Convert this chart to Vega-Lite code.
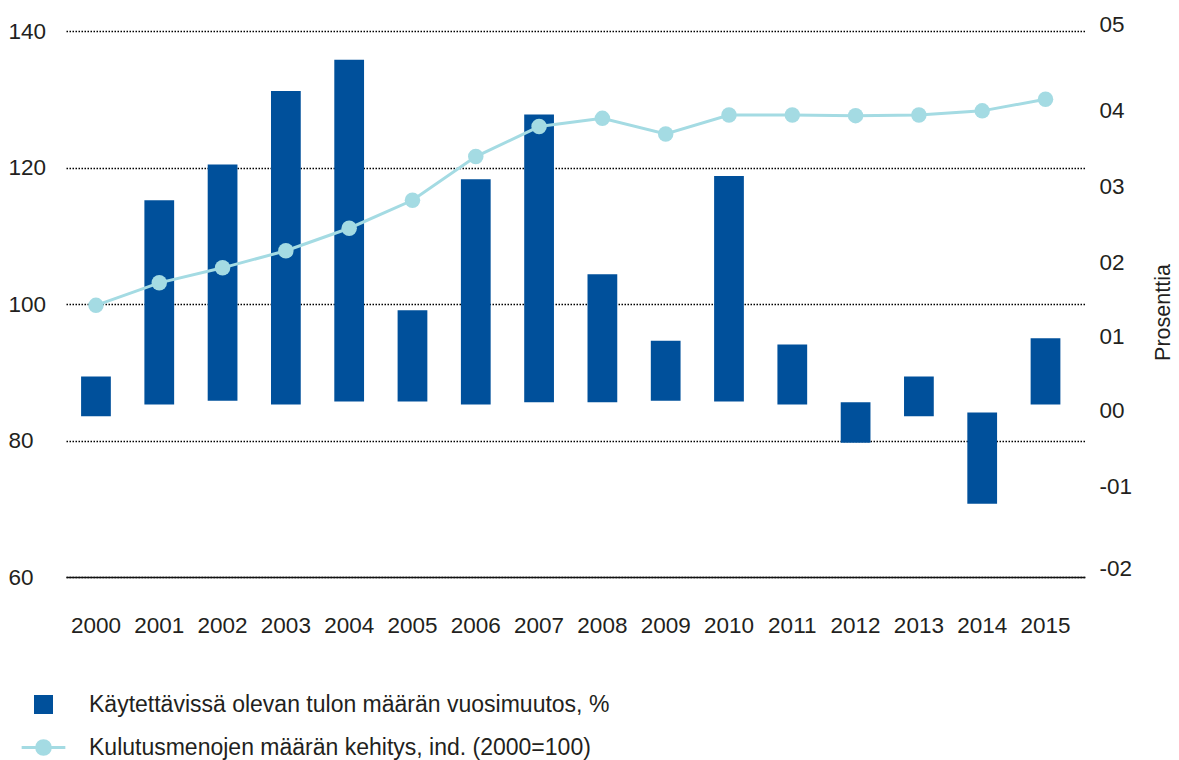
{
  "$schema": "https://vega.github.io/schema/vega-lite/v6.json",
  "width": 1019,
  "height": 546,
  "autosize": {"type": "none"},
  "padding": {"left": 66, "top": 31, "right": 94, "bottom": 183},
  "background": "white",
  "config": {
    "view": {"stroke": null},
    "font": "Liberation Sans",
    "axis": {"labelColor": "#231f20", "titleColor": "#231f20", "labelFont": "Liberation Sans", "titleFont": "Liberation Sans"},
    "legend": {"labelColor": "#231f20", "labelFont": "Liberation Sans", "labelLimit": 0}
  },
  "data": {
    "values": [
      {"year": "2000", "bar_start": 0.06, "bar_end": 0.57, "index": 99.8},
      {"year": "2001", "bar_start": 0.21, "bar_end": 2.83, "index": 103.1},
      {"year": "2002", "bar_start": 0.26, "bar_end": 3.29, "index": 105.3},
      {"year": "2003", "bar_start": 0.21, "bar_end": 4.23, "index": 107.8},
      {"year": "2004", "bar_start": 0.25, "bar_end": 4.63, "index": 111.1},
      {"year": "2005", "bar_start": 0.25, "bar_end": 1.42, "index": 115.2},
      {"year": "2006", "bar_start": 0.21, "bar_end": 3.10, "index": 121.6},
      {"year": "2007", "bar_start": 0.24, "bar_end": 3.93, "index": 126.0},
      {"year": "2008", "bar_start": 0.24, "bar_end": 1.88, "index": 127.2},
      {"year": "2009", "bar_start": 0.26, "bar_end": 1.03, "index": 124.9},
      {"year": "2010", "bar_start": 0.25, "bar_end": 3.14, "index": 127.7},
      {"year": "2011", "bar_start": 0.21, "bar_end": 0.98, "index": 127.7},
      {"year": "2012", "bar_start": 0.24, "bar_end": -0.28, "index": 127.6},
      {"year": "2013", "bar_start": 0.57, "bar_end": 0.06, "index": 127.7},
      {"year": "2014", "bar_start": 0.11, "bar_end": -1.06, "index": 128.3},
      {"year": "2015", "bar_start": 0.21, "bar_end": 1.06, "index": 130.0}
    ]
  },
  "layer": [
    {
      "mark": {"type": "bar", "color": "#00509b"},
      "encoding": {
        "x": {
          "field": "year", "type": "ordinal",
          "scale": {"paddingInner": 0.53, "paddingOuter": 0.3136, "align": 0.38},
          "axis": {"title": null, "labelAngle": 0, "ticks": false, "tickSize": 0, "labelPadding": 37, "labelFontSize": 22.5, "labelBaseline": "top", "domain": true, "domainColor": "#111111", "domainWidth": 1.5, "grid": false}
        },
        "y": {
          "field": "bar_start", "type": "quantitative",
          "scale": {"domain": [-2, 5], "nice": false, "zero": false},
          "axis": {
            "orient": "right",
            "values": [-1.987, -0.934, 0.042, 0.993, 1.943, 2.919, 3.895, 5],
            "labelExpr": "(round(datum.value) < 0 ? '-' : '') + '0' + abs(round(datum.value))",
            "grid": false, "domain": false, "ticks": false, "tickSize": 0,
            "labelPadding": 14, "labelBaseline": "alphabetic", "labelAlign": "left", "labelFontSize": 22.5,
            "title": "Prosenttia", "titleAngle": 270, "titleX": 78, "titleY": 281,
            "titleFontSize": 21.5, "titleFontWeight": "normal", "titleBaseline": "middle", "titleAlign": "center"
          }
        },
        "y2": {"field": "bar_end"},
        "fill": {
          "datum": "Käytettävissä olevan tulon määrän vuosimuutos, %", "type": "nominal",
          "scale": {"range": ["#00509b"]},
          "legend": {"orient": "none", "legendX": -34, "legendY": 662, "title": null, "symbolType": "square", "symbolSize": 361, "symbolStrokeWidth": 0, "labelFontSize": 23, "labelOffset": 34, "labelLimit": 0, "padding": 0}
        }
      }
    },
    {
      "layer": [
        {
          "mark": {"type": "line", "strokeWidth": 3},
          "encoding": {
            "x": {"field": "year", "type": "ordinal"},
            "y": {
              "field": "index", "type": "quantitative",
              "scale": {"domain": [60, 140], "nice": false, "zero": false},
              "axis": {"orient": "left", "values": [60, 80, 100, 120, 140], "title": null, "domain": false, "ticks": false, "tickSize": 0, "labelAlign": "left", "labelPadding": 58, "labelFontSize": 22.5, "labelBaseline": "middle", "grid": true, "gridDash": [1.5, 1.5], "gridColor": "#000000", "gridWidth": 1.6}
            },
            "stroke": {
              "datum": "Kulutusmenojen määrän kehitys, ind. (2000=100)", "type": "nominal",
              "scale": {"range": ["#a4dbe3"]},
              "legend": {"orient": "none", "legendX": -34, "legendY": 705, "title": null, "symbolType": "M-2.3,0H2.3M0.72,0A0.72,0.72 0 1,1 -0.72,0A0.72,0.72 0 1,1 0.72,0", "symbolSize": 361, "symbolStrokeWidth": 3, "symbolFillColor": "#a4dbe3", "labelFontSize": 23, "labelOffset": 34, "labelLimit": 0, "padding": 0}
            }
          }
        },
        {
          "mark": {"type": "point", "filled": true, "size": 240, "opacity": 1, "color": "#a4dbe3"},
          "encoding": {
            "x": {"field": "year", "type": "ordinal"},
            "y": {"field": "index", "type": "quantitative"}
          }
        }
      ]
    }
  ],
  "resolve": {"scale": {"y": "independent"}}
}
